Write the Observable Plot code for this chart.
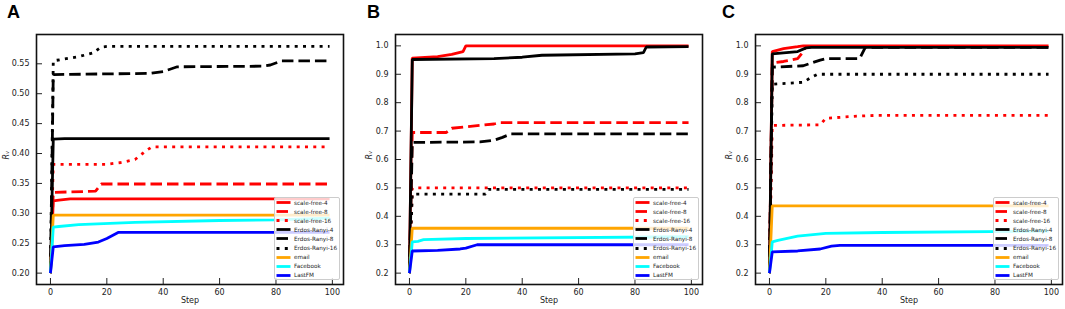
<!DOCTYPE html>
<html><head><meta charset="utf-8">
<script src="https://cdn.jsdelivr.net/npm/d3@7"></script>
<script src="https://cdn.jsdelivr.net/npm/@observablehq/plot@0.6"></script>
<style>
body{margin:0;background:#fff;}
#wrap{position:relative;width:1065px;height:309px;overflow:hidden;font-family:"DejaVu Sans",sans-serif;}
.panel{position:absolute;top:0;}
.letter{position:absolute;top:3px;font:bold 18px "Liberation Sans",Arial,sans-serif;line-height:1;color:#000;}
.legend{position:absolute;background:rgba(255,255,255,0.8);border:1px solid #ccc;border-radius:2px;box-sizing:border-box;}
.legend .row{display:flex;align-items:center;height:9.1px;font-size:5.7px;color:#222;white-space:nowrap;}
.legend svg{display:block;}
</style></head><body><div id="wrap"></div>
<script>
// ---- series definitions ----
const seriesNames = ["scale-free-4","scale-free-8","scale-free-16","Erdos-Ranyi-4","Erdos-Ranyi-8","Erdos-Ranyi-16","email","Facebook","LastFM"];
const seriesColors = ["#ff0000","#ff0000","#ff0000","#000000","#000000","#000000","#ffa500","#00ffff","#0000ff"];
const seriesDash = [null,"11.5,5","3,5.3",null,"11.5,5","3,5.3",null,null,null];
const stepTicks = [0,20,40,60,80,100];
const yTicksA = [0.20,0.25,0.30,0.35,0.40,0.45,0.50,0.55];
const yTicksBC = [0.2,0.3,0.4,0.5,0.6,0.7,0.8,0.9,1.0];
const panelLetters = ["A","B","C"];

// ---- panel A: [step, R_V] ----
const a_sf4 = [[0,.2],[1,.321],[3,.322],[7,.324],[99,.324]];
const a_sf8 = [[0,.2],[1,.335],[16,.337],[18,.349],[99,.349]];
const a_sf16 = [[0,.2],[1,.382],[20,.382],[25,.385],[30,.39],[34,.405],[36,.411],[99,.411]];
const a_er4 = [[0,.2],[1,.424],[5,.425],[99,.425]];
const a_er8 = [[0,.2],[1,.532],[35,.534],[40,.537],[45,.545],[75,.546],[78,.548],[82,.555],[99,.555]];
const a_er16 = [[0,.2],[1,.555],[10,.562],[15,.568],[18,.578],[20,.579],[99,.579]];
const a_email = [[0,.2],[1,.297],[99,.297]];
const a_fb = [[0,.2],[1,.277],[3,.278],[10,.281],[30,.285],[60,.288],[80,.289],[99,.292]];
const a_lfm = [[0,.2],[1,.244],[5,.246],[12,.248],[17,.252],[20,.258],[24,.268],[99,.268]];

// ---- panel B ----
const b_sf4 = [[0,.2],[1,.957],[10,.962],[15,.97],[19,.98],[20,1.0],[99,1.0]];
const b_sf8 = [[0,.2],[1,.695],[13,.695],[15,.71],[20,.715],[30,.725],[32,.73],[99,.73]];
const b_sf16 = [[0,.2],[1,.5],[99,.5]];
const b_er4 = [[0,.2],[1,.952],[30,.955],[40,.96],[47,.967],[80,.972],[83,.976],[84,.996],[99,.997]];
const b_er8 = [[0,.2],[1,.66],[25,.662],[30,.668],[33,.678],[36,.69],[99,.69]];
const b_er16 = [[0,.2],[1,.478],[27,.478],[28,.495],[99,.495]];
const b_email = [[0,.2],[1,.358],[99,.358]];
const b_fb = [[0,.2],[1,.31],[3,.312],[5,.318],[20,.322],[99,.328]];
const b_lfm = [[0,.2],[1,.278],[10,.28],[18,.285],[20,.288],[24,.3],[99,.3]];

// ---- panel C ----
const c_sf4 = [[0,.2],[1,.98],[5,.99],[10,.997],[12,1.0],[99,1.0]];
const c_sf8 = [[0,.2],[1,.94],[5,.945],[10,.955],[12,.98],[13,.998],[99,.998]];
const c_sf16 = [[0,.2],[1,.72],[18,.722],[20,.745],[30,.752],[37,.755],[99,.755]];
const c_er4 = [[0,.2],[1,.972],[10,.98],[13,.993],[15,.995],[99,.995]];
const c_er8 = [[0,.2],[1,.925],[12,.93],[18,.95],[20,.955],[32,.955],[34,.995],[99,.995]];
const c_er16 = [[0,.2],[1,.865],[12,.872],[15,.89],[17,.9],[99,.9]];
const c_email = [[0,.2],[1,.437],[99,.437]];
const c_fb = [[0,.2],[1,.31],[3,.315],[10,.33],[20,.34],[40,.343],[99,.348]];
const c_lfm = [[0,.2],[1,.275],[10,.278],[18,.285],[22,.295],[25,.298],[99,.298]];

const panelSeries = [
  [a_sf4,a_sf8,a_sf16,a_er4,a_er8,a_er16,a_email,a_fb,a_lfm],
  [b_sf4,b_sf8,b_sf16,b_er4,b_er8,b_er16,b_email,b_fb,b_lfm],
  [c_sf4,c_sf8,c_sf16,c_er4,c_er8,c_er16,c_email,c_fb,c_lfm]
];

const layout = [
  {left:0,   width:350, marginRight:7, yDomain:[0.181,0.599], yTicks:yTicksA,  fmt:d3.format(".2f"), ylabDx:-30},
  {left:359, width:350, marginRight:7, yDomain:[0.16,1.04],   yTicks:yTicksBC, fmt:d3.format(".1f"), ylabDx:-26},
  {left:719, width:346, marginRight:3, yDomain:[0.16,1.04],   yTicks:yTicksBC, fmt:d3.format(".1f"), ylabDx:-26}
];
const mTop = 34, mBottom = 25, mLeft = 36, H = 309;

const wrap = document.getElementById("wrap");

panelSeries.forEach((list, p) => {
  const L = layout[p];
  const rows = list.flatMap((pts, i) => pts.map(([step, value]) => ({step, value, series: seriesNames[i]})));
  const lines = seriesNames.map((name, i) => Plot.line(rows.filter(d => d.series === name), {
    x: "step", y: "value", stroke: seriesColors[i], strokeWidth: 2.8,
    strokeDasharray: seriesDash[i] || undefined, strokeLinecap: "butt", strokeLinejoin: "miter"
  }));
  const chart = Plot.plot({
    width: L.width, height: H,
    marginLeft: mLeft, marginRight: L.marginRight, marginTop: mTop, marginBottom: mBottom,
    x: {domain: [-4.95, 103.95]},
    y: {domain: L.yDomain},
    style: {fontFamily: "DejaVu Sans", fontSize: "8px", color: "#222", background: "transparent"},
    marks: [
      ...lines,
      Plot.axisX({ticks: stepTicks, tickSize: 0, tickPadding: 5, label: null}),
      Plot.axisX({ticks: stepTicks, tickSize: 6, dy: -6, tickFormat: () => "", label: null, stroke: "#222"}),
      Plot.axisY({ticks: L.yTicks, tickSize: 0, tickPadding: 7, tickFormat: L.fmt, label: null}),
      Plot.axisY({ticks: L.yTicks, tickSize: 6, dx: 6, tickFormat: () => "", label: null, stroke: "#222"}),
      Plot.frame({stroke: "#111", strokeWidth: 1.6}),
      Plot.text(["Step"], {text: d => d, frameAnchor: "bottom", dy: 18, fontSize: 8, fill: "#222"}),
      Plot.text(["R\u1D65"], {text: d => d, frameAnchor: "left", dx: L.ylabDx, rotate: -90, fontSize: 8, fontStyle: "italic", fill: "#222"})
    ]
  });
  const div = document.createElement("div");
  div.className = "panel";
  div.style.left = L.left + "px";
  div.appendChild(chart);
  wrap.appendChild(div);

  // panel letter
  const let_ = document.createElement("div");
  let_.className = "letter";
  let_.style.left = [7, 367, 722][p] + "px";
  let_.textContent = panelLetters[p];
  wrap.appendChild(let_);

  // legend
  const frameRight = L.left + L.width - L.marginRight;
  const leg = document.createElement("div");
  leg.className = "legend";
  leg.style.left = (frameRight - 3 - 66) + "px";
  leg.style.top = "197px";
  leg.style.width = "66px";
  leg.style.height = "83px";
  seriesNames.forEach((name, i) => {
    const row = document.createElement("div");
    row.className = "row";
    const dash = seriesDash[i] ? `stroke-dasharray="${seriesDash[i]}"` : "";
    row.innerHTML = `<svg width="17" height="9"><line x1="1.5" x2="15.5" y1="4.5" y2="4.5" stroke="${seriesColors[i]}" stroke-width="2.8" ${dash}/></svg><span style="margin-left:2px">${name}</span>`;
    leg.appendChild(row);
  });
  wrap.appendChild(leg);
});
</script></body></html>
